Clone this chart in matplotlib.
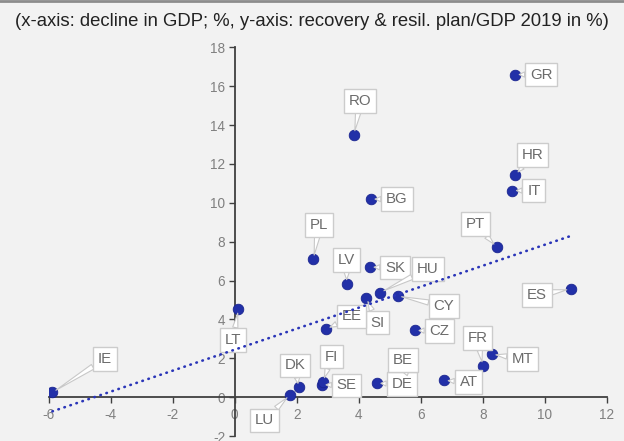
import matplotlib
matplotlib.use("Agg")
import matplotlib.pyplot as plt
import numpy as np

plt.rcParams['font.family'] = ['Liberation Sans', 'DejaVu Sans']

countries = ["GR", "HR", "IT", "RO", "BG", "PT", "ES", "PL", "LV", "SK", "HU", "SI", "CY",
             "EE", "CZ", "FR", "MT", "AT", "DE", "BE", "SE", "FI", "DK", "LU", "LT", "IE"]
gdp_decline = [9.04, 9.05, 8.95, 3.85, 4.39, 8.45, 10.84, 2.54, 3.61, 4.36, 4.69, 4.24, 5.25,
               2.95, 5.81, 8.00, 8.29, 6.75, 4.58, 5.60, 2.81, 2.85, 2.06, 1.78, 0.12, -5.88]
rrf_share = [16.60, 11.43, 10.63, 13.50, 10.19, 7.72, 5.56, 7.10, 5.83, 6.69, 5.38, 5.11, 5.21,
             3.50, 3.43, 1.61, 2.21, 0.86, 0.72, 0.90, 0.64, 0.80, 0.50, 0.12, 4.53, 0.24]
# label anchor positions (data units)
label_x = [9.88, 9.61, 9.65, 4.05, 5.23, 7.76, 9.74, 2.72, 3.61, 5.17, 6.23, 4.60, 6.75,
           3.77, 6.60, 7.83, 9.29, 7.54, 5.39, 5.42, 3.61, 3.13, 1.95, 0.95, -0.05, -4.18]
label_y = [16.60, 12.46, 10.63, 15.25, 10.19, 8.90, 5.26, 8.86, 7.06, 6.67, 6.59, 3.84, 4.70,
           4.15, 3.41, 3.04, 1.97, 0.78, 0.67, 1.92, 0.60, 2.09, 1.63, -1.20, 2.95, 1.97]

x_ticks = [-6, -4, -2, 0, 2, 4, 6, 8, 10, 12]
y_ticks = [-2, 0, 2, 4, 6, 8, 10, 12, 14, 16, 18]

bg = "#f2f2f2"
fig = plt.figure(figsize=(6.24, 4.41), dpi=100, facecolor=bg)
ax = fig.add_axes([0.078, 0.0113, 0.8945, 0.8814], facecolor=bg)

ax.set_xlim(-6, 12)
ax.set_ylim(-2, 18)

x = np.array(gdp_decline)
y = np.array(rrf_share)

ax.scatter(x, y, s=58, color="#2230a8", edgecolors="#1a2590", linewidths=0.6, zorder=3)

for c, px, py, lx, ly in zip(countries, x, y, label_x, label_y):
    ax.annotate(c, xy=(px, py), xytext=(lx, ly), textcoords="data",
                ha="center", va="center", fontsize=10.8, color="#6b6b6b", zorder=4,
                bbox=dict(boxstyle="square,pad=0.32", fc="white", ec="#cccccc", lw=1),
                arrowprops=dict(arrowstyle="wedge,tail_width=0.35,shrink_factor=0.5",
                                fc="white", ec="#c8c8c8", lw=0.8,
                                shrinkA=0, shrinkB=3))

# linear trend over the data range
slope, intercept = np.polyfit(x, y, 1)
xt = np.array([x.min(), x.max()])
ax.plot(xt, slope * xt + intercept, color="#2a35b8", lw=1.9,
        linestyle=(0, (0.2, 2.2)), dash_capstyle="round", zorder=5)

for side in ("top", "right"):
    ax.spines[side].set_visible(False)
ax.spines["left"].set_position(("data", 0))
ax.spines["bottom"].set_position(("data", 0))
ax.spines["left"].set_color("#404040")
ax.spines["bottom"].set_color("#404040")
ax.spines["left"].set_linewidth(1.3)
ax.spines["bottom"].set_linewidth(1.3)

ax.set_xticks(x_ticks)
ax.set_yticks(y_ticks)
ax.set_xticklabels([str(t) for t in x_ticks])
ax.set_yticklabels([str(t) for t in y_ticks])
ax.tick_params(axis="both", direction="out", length=4, width=1, color="#404040",
               labelcolor="#808080", labelsize=9.8)
ax.tick_params(axis="x", pad=4)
ax.tick_params(axis="y", pad=3)

fig.text(0.5, 0.952, "(x-axis: decline in GDP; %, y-axis: recovery & resil. plan/GDP 2019 in %)",
         ha="center", va="center", fontsize=13.3, color="#222222")
fig.add_artist(plt.Line2D([0, 1], [0.998, 0.998], color="#8c8c8c", lw=2,
                          transform=fig.transFigure))

fig.savefig("out.png", dpi=100, facecolor=bg)
